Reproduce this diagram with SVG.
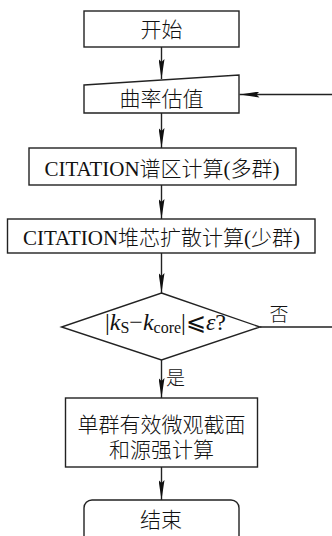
<svg xmlns="http://www.w3.org/2000/svg" width="332" height="536" viewBox="0 0 332 536">
<defs>
<marker id="ah" markerUnits="userSpaceOnUse" viewBox="0 0 20 6" refX="20" refY="3" markerWidth="20" markerHeight="6" orient="auto">
<path d="M0,0 L20,3 L0,6 L3,3 Z" fill="#111"/>
</marker>
<style>
.n{fill:#fff;stroke:#222;stroke-width:1.4}
.c{fill:none;stroke:#222;stroke-width:1.4}
.t{font-family:"Liberation Serif","Noto Sans CJK SC",serif;font-size:21px;font-weight:300;fill:#111;text-anchor:middle}
.m{font-family:"Liberation Serif","Noto Sans CJK SC",serif;font-size:24px;fill:#111}
.l{font-family:"Noto Sans CJK SC",sans-serif;font-size:19px;font-weight:300;fill:#111}
</style>
</defs>
<g id="connectors">
<line class="c" x1="161.5" y1="47" x2="161.5" y2="79" marker-end="url(#ah)"/>
<line class="c" x1="161.5" y1="113" x2="161.5" y2="148" marker-end="url(#ah)"/>
<line class="c" x1="161.5" y1="185" x2="161.5" y2="219" marker-end="url(#ah)"/>
<line class="c" x1="161.5" y1="253" x2="161.5" y2="293" marker-end="url(#ah)"/>
<line class="c" x1="161.5" y1="360" x2="161.5" y2="398" marker-end="url(#ah)"/>
<line class="c" x1="161.5" y1="467" x2="161.5" y2="500" marker-end="url(#ah)"/>
<path class="c" d="M260,327 H345 V94.5 H239.5" marker-end="url(#ah)"/>
<text class="l" x="269.5" y="320.5">否</text>
<text class="l" x="166" y="385">是</text>
</g>
<g id="start">
<rect class="n" x="84" y="11" width="155" height="36"/>
<text class="t" x="161.5" y="37">开始</text>
</g>
<g id="estimate">
<polygon class="n" points="84,85 239,75 239,113 84,113"/>
<text class="t" x="161.5" y="105.5">曲率估值</text>
</g>
<g id="spectrum">
<rect class="n" x="29" y="148" width="267" height="37"/>
<text class="t" x="162" y="176">CITATION谱区计算(多群)</text>
</g>
<g id="core">
<rect class="n" x="7.5" y="219" width="307.5" height="34"/>
<text class="t" x="161.5" y="245">CITATION堆芯扩散计算(少群)</text>
</g>
<g id="decision">
<polygon class="n" points="161.5,293 260,327 161.5,360 61.5,327"/>
<text class="m" x="165.5" y="330" text-anchor="middle">|<tspan font-style="italic">k</tspan><tspan font-size="16" dy="3">S</tspan><tspan dy="-3">−</tspan><tspan font-style="italic">k</tspan><tspan font-size="16" dy="3">core</tspan><tspan dy="-3">|⩽</tspan><tspan font-style="italic">ε</tspan>?</text>
</g>
<g id="xs">
<rect class="n" x="65.5" y="398" width="192" height="69"/>
<text class="t" x="161.5" y="432">单群有效微观截面</text>
<text class="t" x="161.5" y="457">和源强计算</text>
</g>
<g id="end">
<rect class="n" x="84" y="500" width="155" height="50" rx="8"/>
<text class="t" x="161" y="527">结束</text>
</g>
</svg>
